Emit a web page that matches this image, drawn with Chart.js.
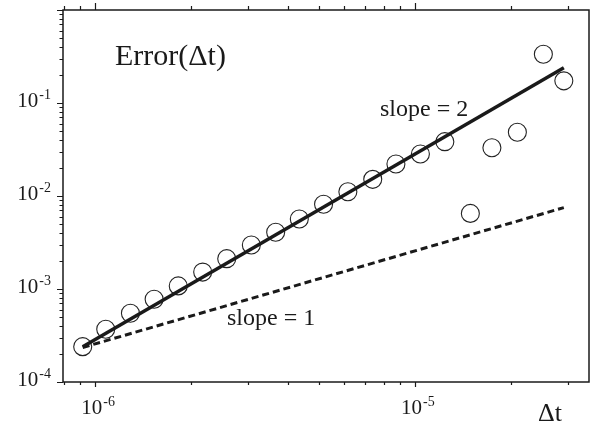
<!DOCTYPE html>
<html>
<head>
<meta charset="utf-8">
<title>Error(Δt)</title>
<script src="https://cdn.jsdelivr.net/npm/chart.js@4.4.0/dist/chart.umd.min.js"></script>
<style>
  html, body { margin: 0; padding: 0; background: #fff; }
  #errorChart { display: block; }
</style>
</head>
<body>
<canvas id="errorChart" width="594" height="425"></canvas>
<script>
const deltaT = [9.15e-7, 1.08e-6, 1.29e-6, 1.53e-6, 1.82e-6, 2.17e-6, 2.58e-6, 3.08e-6, 3.67e-6,
  4.35e-6, 5.18e-6, 6.17e-6, 7.38e-6, 8.72e-6, 1.04e-5, 1.24e-5, 1.49e-5, 1.74e-5, 2.09e-5, 2.52e-5, 2.92e-5];
const errorValues = [2.40e-4, 3.69e-4, 5.48e-4, 7.75e-4, 1.08e-3, 1.52e-3, 2.12e-3, 2.97e-3, 4.07e-3,
  5.66e-3, 8.14e-3, 1.11e-2, 1.51e-2, 2.21e-2, 2.83e-2, 3.84e-2, 6.5e-3, 3.30e-2, 4.84e-2, 0.334, 0.173];

// reference lines (end points)
const refLineX = [9.15e-7, 2.92e-5];
const slope2Y = [2.4e-4, 0.24];
const slope1Y = [2.35e-4, 7.5e-3];

// axis range and ticks
const xRange = [7.94e-7, 3.5e-5];
const yRange = [1e-4, 1];
const xMajorTicks = [1e-6, 1e-5];
const xTickLabels = ['-6', '-5'];   // exponents of 10
const xMinorTicks = [8e-7, 9e-7, 2e-6, 3e-6, 4e-6, 5e-6, 6e-6, 7e-6, 8e-6, 9e-6, 2e-5, 3e-5];
const yMajorTicks = [1e-4, 1e-3, 1e-2, 1e-1, 1];
const yTickLabels = ['-4', '-3', '-2', '-1', ''];
const yMinorTicks = [2e-4, 3e-4, 4e-4, 5e-4, 6e-4, 7e-4, 8e-4, 9e-4,
  2e-3, 3e-3, 4e-3, 5e-3, 6e-3, 7e-3, 8e-3, 9e-3,
  2e-2, 3e-2, 4e-2, 5e-2, 6e-2, 7e-2, 8e-2, 9e-2,
  0.2, 0.3, 0.4, 0.5, 0.6, 0.7, 0.8, 0.9];

const serif = '"Liberation Serif", "Times New Roman", serif';
const ink = '#1a1a1a';

function powerLabel(ctx, exp, x, base, anchor) {
  ctx.font = '21px ' + serif;
  const w1 = ctx.measureText('10').width;
  ctx.font = '14px ' + serif;
  const w2 = ctx.measureText(exp).width;
  const total = w1 + 1 + w2;
  const left = anchor === 'right' ? x - total : x - total / 2;
  ctx.font = '21px ' + serif;
  ctx.fillText('10', left, base);
  ctx.font = '14px ' + serif;
  ctx.fillText(exp, left + w1 + 1, base - 8);
}

// frame, log ticks with superscript labels, and text notes
const axesFrame = {
  id: 'axesFrame',
  afterDraw(chart) {
    const { ctx, chartArea: a, scales: { x, y } } = chart;
    ctx.save();
    ctx.strokeStyle = ink;
    ctx.lineWidth = 1.5;
    ctx.strokeRect(a.left, a.top, a.right - a.left, a.bottom - a.top);

    ctx.lineWidth = 1.2;
    ctx.beginPath();
    const xTicks = (vals, down, up) => vals.forEach(v => {
      const px = Math.round(x.getPixelForValue(v)) + 0.5;
      ctx.moveTo(px, a.bottom); ctx.lineTo(px, a.bottom + down);
      ctx.moveTo(px, a.top); ctx.lineTo(px, a.top - up);
    });
    const yTicks = (vals, len) => vals.forEach(v => {
      const py = Math.round(y.getPixelForValue(v)) + 0.5;
      ctx.moveTo(a.left, py); ctx.lineTo(a.left - len, py);
    });
    xTicks(xMajorTicks, 5, 7);
    xTicks(xMinorTicks, 3, 4);
    yTicks(yMajorTicks, 6);
    yTicks(yMinorTicks, 3.5);
    ctx.stroke();

    ctx.fillStyle = ink;
    ctx.textBaseline = 'alphabetic';
    ctx.textAlign = 'left';
    xMajorTicks.forEach((v, i) => {
      powerLabel(ctx, xTickLabels[i], x.getPixelForValue(v) + 3, a.bottom + 32, 'center');
    });
    yMajorTicks.forEach((v, i) => {
      if (yTickLabels[i]) powerLabel(ctx, yTickLabels[i], a.left - 12, y.getPixelForValue(v) + 3.5, 'right');
    });

    ctx.font = '30px ' + serif;
    ctx.fillText('Error(Δt)', 115, 65);
    ctx.font = '24px ' + serif;
    ctx.fillText('slope = 2', 380, 116);
    ctx.fillText('slope = 1', 227, 325);
    ctx.font = '26px ' + serif;
    ctx.fillText('Δt', 538, 421);
    ctx.restore();
  }
};

new Chart(document.getElementById('errorChart'), {
  type: 'scatter',
  data: {
    datasets: [
      {
        type: 'line',
        data: refLineX.map((v, i) => ({ x: v, y: slope2Y[i] })),
        borderColor: ink,
        borderWidth: 3.5,
        pointRadius: 0,
        fill: false
      },
      {
        type: 'line',
        data: refLineX.map((v, i) => ({ x: v, y: slope1Y[i] })),
        borderColor: ink,
        borderWidth: 3,
        borderDash: [7, 4],
        pointRadius: 0,
        fill: false
      },
      {
        data: deltaT.map((v, i) => ({ x: v, y: errorValues[i] })),
        pointStyle: 'circle',
        pointRadius: 9,
        borderColor: '#222',
        borderWidth: 1.1,
        backgroundColor: 'rgba(0,0,0,0)'
      }
    ]
  },
  options: {
    responsive: false,
    animation: false,
    layout: { autoPadding: false, padding: { top: 10, right: 5, left: 0, bottom: 0 } },
    plugins: { legend: { display: false }, tooltip: { enabled: false } },
    scales: {
      x: {
        type: 'logarithmic',
        position: 'bottom',
        min: xRange[0],
        max: xRange[1],
        grid: { display: false },
        border: { display: false },
        ticks: { display: false },
        afterFit: s => { s.height = 43; }
      },
      y: {
        type: 'logarithmic',
        position: 'left',
        min: yRange[0],
        max: yRange[1],
        grid: { display: false },
        border: { display: false },
        ticks: { display: false },
        afterFit: s => { s.width = 63; }
      }
    }
  },
  plugins: [axesFrame]
});
</script>
</body>
</html>
